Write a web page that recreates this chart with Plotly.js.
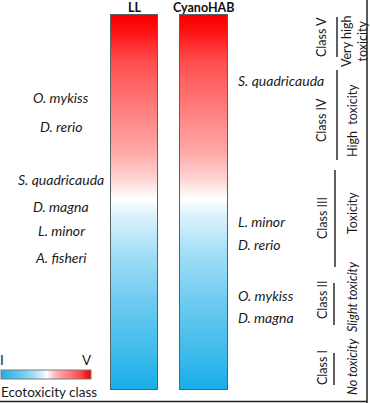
<!DOCTYPE html>
<html><head><meta charset="utf-8">
<script src="https://cdn.plot.ly/plotly-3.0.1.min.js"></script>
<style>html,body{margin:0;padding:0;background:#fff}</style>
</head><body><div id="chart" style="width:370px;height:403px"></div>
<script>
// Ecotoxicity class scale (I..V)
const classValues = [1, 2, 3, 4, 5];
const bars = ["LL", "CyanoHAB"];
// species placed along the ecotoxicity scale (class value)
const llSpecies = ["O. mykiss", "D. rerio", "S. quadricauda", "D. magna", "L. minor", "A. fisheri"];
const llScore = [4.12, 3.81, 3.24, 2.95, 2.69, 2.41];
const cyanoSpecies = ["S. quadricauda", "L. minor", "D. rerio", "O. mykiss", "D. magna"];
const cyanoScore = [4.30, 2.79, 2.55, 2.00, 1.77];
// class bands on the right
const classLabels = ["Class V", "Class IV", "Class III", "Class II", "Class I"];
const classDesc = ["Very high<br>toxicity", "High  toxicity", "Toxicity", "Slight toxicity", "No toxicity"];
const descItalic = [false, false, false, true, true];
const legendEnds = ["I", "V"];
const legendTitle = "Ecotoxicity class";

const W = 370, H = 403;
const px = v => v / W, py = v => 1 - v / H;

const colorscale = [
  [0.00, "#17ade9"], [0.10, "#3fbbec"], [0.24, "#6fcbf0"], [0.37, "#a6dff6"],
  [0.465, "#dcf2fc"], [0.51, "#ffffff"], [0.56, "#ffd6d6"], [0.64, "#ffa6a6"],
  [0.77, "#ff7777"], [0.88, "#ff4c4c"], [0.96, "#fc1010"], [1.00, "#f80000"]
];

const zcol = classValues.map(v => [v]);
const traces = bars.map((b, i) => ({
  type: "heatmap", x: [b], y: classValues, z: zcol, zsmooth: "best",
  xaxis: i === 0 ? "x" : "x2", yaxis: "y",
  colorscale: colorscale, zmin: 1, zmax: 5, hoverinfo: "skip",
  showscale: i === 0,
  colorbar: {
    orientation: "h", xref: "paper", yref: "paper",
    x: px(1), xanchor: "left", y: py(380), yanchor: "bottom",
    len: 90, lenmode: "pixels", thickness: 9, xpad: 0, ypad: 0,
    outlinewidth: 1, outlinecolor: "#7a7a7a", showticklabels: false, ticks: "",
    title: {text: ""}
  }
}));

const font = "Lato, 'Open Sans', sans-serif";
const dark = "#1a1a1a";
const ann = [];
bars.forEach((b, i) => ann.push({
  text: "<b>" + b + "</b>", xref: i === 0 ? "x" : "x2", yref: "paper", x: b, y: py(8),
  xanchor: "center", yanchor: "middle", showarrow: false, font: {family: font, size: 12.5, color: "#111"}
}));
llSpecies.forEach((s, i) => ann.push({
  text: "<i>" + s + "</i>", xref: "paper", yref: "y", x: px(61), y: llScore[i],
  xanchor: "center", yanchor: "middle", showarrow: false, font: {family: font, size: 14, color: dark}
}));
cyanoSpecies.forEach((s, i) => ann.push({
  text: "<i>" + s + "</i>", xref: "paper", yref: "y", x: px(236), y: cyanoScore[i],
  xanchor: "left", yanchor: "middle", showarrow: false, font: {family: font, size: 14, color: dark}
}));
const classY = [37, 120, 218, 300, 368];
const descY = [42, 121, 213, 297, 367];
const lineX = [337, 337, 335, 334, 334];
const lineY = [[17, 57], [70, 160], [170, 267], [283, 325], [353, 385]];
classLabels.forEach((c, i) => {
  ann.push({text: c, xref: "paper", yref: "paper", x: px(322), y: py(classY[i]), textangle: -90,
    xanchor: "center", yanchor: "middle", showarrow: false, font: {family: font, size: 12.5, color: dark}});
  ann.push({text: descItalic[i] ? "<i>" + classDesc[i] + "</i>" : classDesc[i], xref: "paper", yref: "paper",
    x: px(i === 0 ? 355 : 352), y: py(descY[i]), textangle: -90,
    xanchor: "center", yanchor: "middle", showarrow: false, font: {family: font, size: 12.5, color: dark}});
});
ann.push({text: legendEnds[0], xref: "paper", yref: "paper", x: px(2), y: py(360), xanchor: "center", yanchor: "middle",
  showarrow: false, font: {family: font, size: 13.5, color: dark}});
ann.push({text: legendEnds[1], xref: "paper", yref: "paper", x: px(87), y: py(360), xanchor: "center", yanchor: "middle",
  showarrow: false, font: {family: font, size: 13.5, color: dark}});
ann.push({text: legendTitle, xref: "paper", yref: "paper", x: px(-1), y: py(392), xanchor: "left", yanchor: "middle",
  showarrow: false, font: {family: font, size: 13.5, color: dark}});

const shapes = lineX.map((x, i) => ({
  type: "line", xref: "paper", yref: "paper", x0: px(x), x1: px(x), y0: py(lineY[i][0]), y1: py(lineY[i][1]),
  line: {color: "#2a2a2a", width: 1.5}
}));
shapes.push({type: "line", xref: "paper", yref: "paper", x0: px(367), x1: px(367), y0: 0, y1: 1, line: {color: "#222", width: 1.5}});
shapes.push({type: "line", xref: "paper", yref: "paper", x0: 0, x1: px(367), y0: py(401.5), y1: py(401.5), line: {color: "#222", width: 1.5}});

const xcommon = {type: "category", range: [-0.5, 0.5], ticks: "", showticklabels: false, showgrid: false, zeroline: false,
  showline: true, mirror: true, linecolor: "#56636a", linewidth: 1, fixedrange: true};
const layout = {
  width: W, height: H, margin: {l: 0, r: 0, t: 0, b: 0},
  paper_bgcolor: "#fff", plot_bgcolor: "#fff", showlegend: false,
  xaxis: Object.assign({}, xcommon, {domain: [px(111), px(157)], anchor: "y"}),
  xaxis2: Object.assign({}, xcommon, {domain: [px(180), px(227)], anchor: "y"}),
  yaxis: {range: [1, 5], domain: [py(389), py(15)], showticklabels: false, ticks: "", showgrid: false, zeroline: false,
    showline: true, mirror: "all", linecolor: "#56636a", linewidth: 1, fixedrange: true},
  annotations: ann, shapes: shapes
};
Plotly.newPlot("chart", traces, layout, {displayModeBar: false, staticPlot: true});
</script></body></html>
